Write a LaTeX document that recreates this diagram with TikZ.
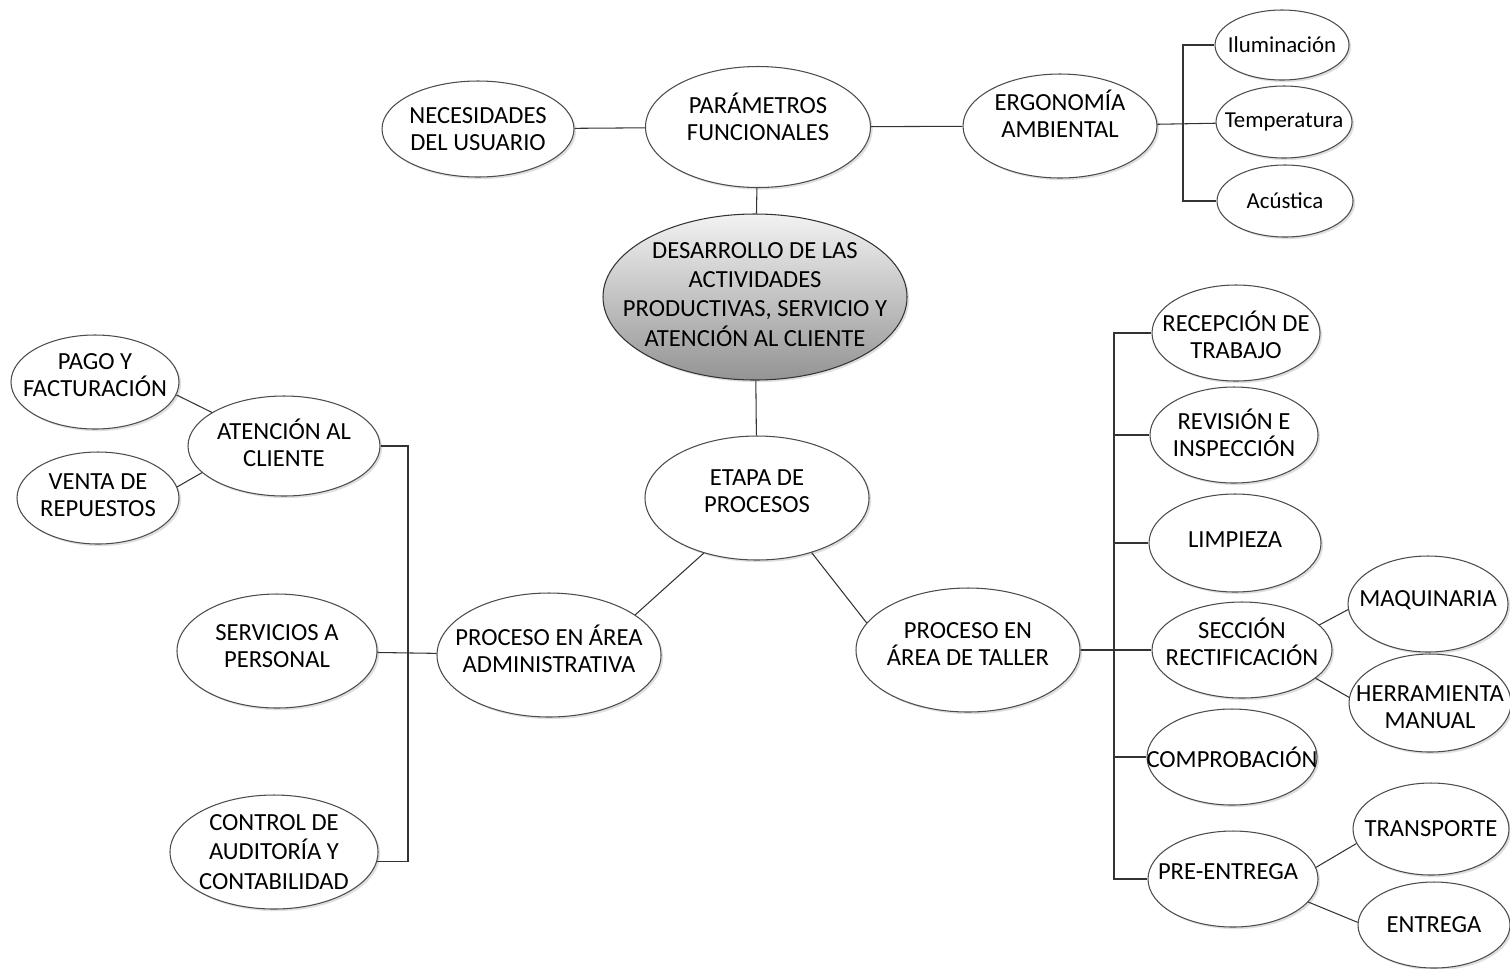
\documentclass[tikz,border=0pt]{standalone}
\usepackage{fontspec}
\setmainfont{Carlito}
\usetikzlibrary{shapes.geometric,shadows}
\tikzset{
  ovalo/.style 2 args={ellipse, draw=black!70, line width=0.6pt, fill=white,
    minimum width=#1*0.02cm, minimum height=#2*0.02cm, inner sep=0pt,
    drop shadow={opacity=0.25, shadow xshift=1.2pt, shadow yshift=-1.2pt}},
  texto/.style={align=center, inner sep=0pt, font=\fontsize{14}{15.2}\selectfont},
  chico/.style={align=center, inner sep=0pt, font=\fontsize{13}{15}\selectfont},
}
\tikzstyle{enlace} = [draw=black!80, line width=0.6pt]
\tikzstyle{central} = [top color=black!5, bottom color=black!42, draw=black!80]

\begin{document}
\begin{tikzpicture}[x=0.02cm, y=-0.02cm]
  \useasboundingbox (0,0) rectangle (1510,968);
  % parte superior
  \node [ovalo={192}{96}, label={[texto]center:{NECESIDADES\\DEL USUARIO}}] (necu) at (478,129) {};
  \node [ovalo={225}{121}, label={[texto,yshift=0.2cm]center:{PARÁMETROS\\FUNCIONALES}}] (param) at (758,127) {};
  \node [ovalo={194}{104}, label={[texto,yshift=0.24cm]center:{ERGONOMÍA\\AMBIENTAL}}] (ergo) at (1060,126) {};
  \node [ovalo={134}{70}, label={[chico]center:Iluminación}] (ilum) at (1282,45) {};
  \node [ovalo={136}{72}, label={[chico]center:Temperatura}] (temp) at (1284,122) {};
  \node [ovalo={136}{72}, label={[chico]center:Acústica}] (acus) at (1285,201) {};
  \node [ovalo={304}{166}, central, label={[texto,font=\fontsize{14}{16.6}\selectfont,yshift=0.05cm]center:{DESARROLLO DE LAS\\ACTIVIDADES\\PRODUCTIVAS, SERVICIO Y\\ATENCIÓN AL CLIENTE}}] (desa) at (755,297) {};
  \node [ovalo={224}{124}, label={[texto,yshift=0.14cm]center:{ETAPA DE\\PROCESOS}}] (etapa) at (757,498) {};
  % area administrativa
  \node [ovalo={224}{124}, label={[texto,yshift=0.12cm]center:{PROCESO EN ÁREA\\ADMINISTRATIVA}}] (admin) at (549,655) {};
  \node [ovalo={192}{100}, label={[texto,yshift=0.07cm]center:{ATENCIÓN AL\\CLIENTE}}] (aten) at (284,446) {};
  \node [ovalo={168}{94}, label={[texto,yshift=0.14cm]center:{PAGO Y\\FACTURACIÓN}}] (pago) at (95,382) {};
  \node [ovalo={162}{92}, label={[texto,yshift=0.06cm]center:{VENTA DE\\REPUESTOS}}] (venta) at (98,498) {};
  \node [ovalo={200}{114}, label={[texto,yshift=0.1cm]center:{SERVICIOS A\\PERSONAL}}] (serv) at (277,651) {};
  \node [ovalo={208}{114}, label={[texto,font=\fontsize{14}{16.9}\selectfont]center:{CONTROL DE\\AUDITORÍA Y\\CONTABILIDAD}}] (control) at (274,852) {};
  % area de taller
  \node [ovalo={224}{124}, label={[texto,yshift=0.12cm]center:{PROCESO EN\\ÁREA DE TALLER}}] (taller) at (968,650) {};
  \node [ovalo={168}{96}, label={[texto,yshift=-0.04cm]center:{RECEPCIÓN DE\\TRABAJO}}] (recep) at (1236,333) {};
  \node [ovalo={168}{96}, label={[texto,yshift=0.05cm]center:{REVISIÓN E\\INSPECCIÓN}}] (revis) at (1234,435) {};
  \node [ovalo={172}{98}, label={[texto,yshift=0.06cm]center:LIMPIEZA}] (limp) at (1235,543) {};
  \node [ovalo={180}{96}, label={[texto,yshift=0.16cm]center:{SECCIÓN\\RECTIFICACIÓN}}] (secc) at (1242,650) {};
  \node [ovalo={160}{96}, label={[texto,yshift=0.08cm]center:MAQUINARIA}] (maq) at (1428,604) {};
  \node [ovalo={162}{98}, label={[texto,yshift=-0.08cm]center:{HERRAMIENTA\\MANUAL}}] (herr) at (1430,703) {};
  \node [ovalo={170}{96}, label={[texto]center:COMPROBACIÓN}] (comp) at (1232,757) {};
  \node [ovalo={170}{96}, label={[texto,xshift=-0.1cm,yshift=0.14cm]center:PRE-ENTREGA}] (pre) at (1233,879) {};
  \node [ovalo={156}{92}, label={[texto]center:TRANSPORTE}] (trans) at (1431,829) {};
  \node [ovalo={152}{86}, label={[texto]center:ENTREGA}] (entr) at (1434,925) {};
  \coordinate (bergo) at (1183,126);
  \coordinate (badm) at (408,651);
  \coordinate (btal) at (1114,650);
  % Draw edges
  \path [enlace] (param) -- (necu);
  \path [enlace] (param) -- (ergo);
  \path [enlace] (ergo) -- (temp);
  \path [enlace] (ilum.west) -| (bergo) |- (acus.west);
  \path [enlace] (param) -- (desa);
  \path [enlace] (desa) -- (etapa);
  \path [enlace] (etapa.226) -- (admin.25);
  \path [enlace] (etapa.315) -- (taller.165);
  \path [enlace] (serv) -- (admin);
  \path [enlace] (aten.east) -| (badm) |- (control.-5);
  \path [enlace] (pago.351) -- (aten.155);
  \path [enlace] (venta.8) -- (aten.198);
  \path [enlace] (taller) -- (secc);
  \path [enlace] (recep.west) -| (btal) |- (pre.west);
  \foreach \n in {revis,limp,comp}
    \path [enlace] (\n.west) -- (btal |- \n.west);
  \path [enlace] (secc.18) -- (maq.184);
  \path [enlace] (secc.-21) -- (herr.176);
  \path [enlace] (pre.8) -- (trans.191);
  \path [enlace] (pre.-17) -- (entr.178);
\end{tikzpicture}
\end{document}
